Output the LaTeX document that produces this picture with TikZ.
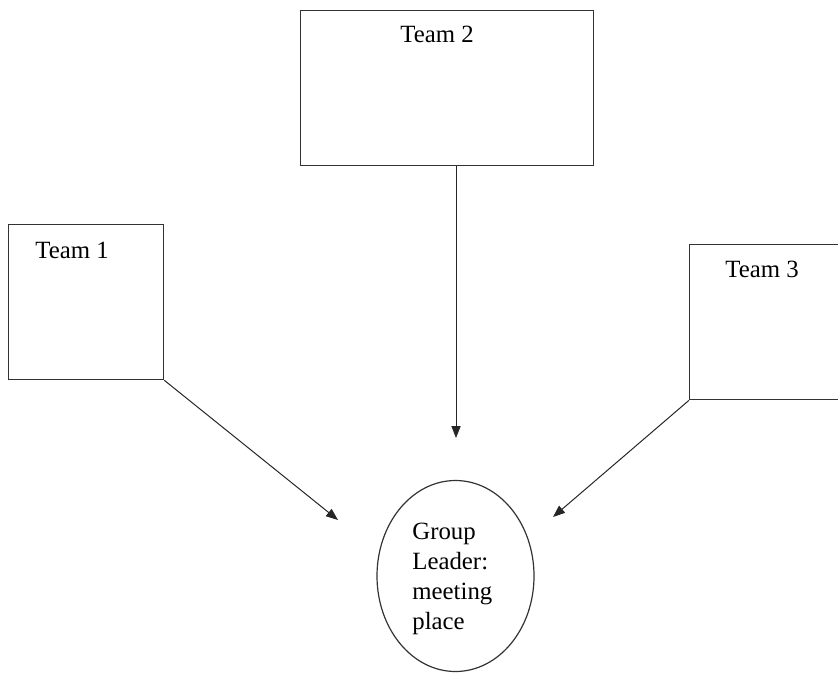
\documentclass[tikz,border=0pt]{standalone}
\usepackage{fontspec}
\setmainfont{Liberation Serif}
\usetikzlibrary{shapes.geometric, arrows.meta, positioning}

\begin{document}
\begin{tikzpicture}[
    x=0.5pt, y=-0.5pt,
    team/.style={rectangle, draw=black!80, line width=0.65pt, anchor=north west, inner sep=0pt,
                 minimum width=77.5pt, minimum height=77.5pt},
    leader/.style={ellipse, draw=black!80, line width=0.6pt, minimum width=78.5pt, minimum height=95.5pt,
                   inner sep=0pt},
    arrow/.style={-{Triangle[length=6pt, width=4.6pt]}, line width=0.5pt, black!85},
    tag/.style={anchor=base west, inner sep=0pt, align=left, font=\fontsize{12.4}{15}\selectfont}
  ]
    \useasboundingbox (0,0) rectangle (838,674);
    % the three teams
    \node[team, minimum width=146.5pt] (team2) at (300,10) {};
    \node[team] (team1) at (8,224) {};
    \node[team] (team3) at (689,244) {};
    \node[tag] (tag2) at (400,43) {Team 2};
    \node[tag] (tag1) at (35,258) {Team 1};
    \node[tag] (tag3) at (725,277) {Team 3};
    % meeting place (base is the last line)
    \node[leader] (leader) at (455.5,576) {};
    \node[tag] (leadertext) at (412,629) {Group\\Leader:\\meeting\\place};
    % arrows stop short of the ellipse
    \coordinate (end1) at (338,520);
    \coordinate (end2) at (456,438);
    \coordinate (end3) at (553,517);
    \draw[arrow] (team1.south east) -- (end1);
    \draw[arrow] (team2.south -| end2) -- (end2);
    \draw[arrow] (team3.south west) -- (end3);
\end{tikzpicture}
\end{document}
